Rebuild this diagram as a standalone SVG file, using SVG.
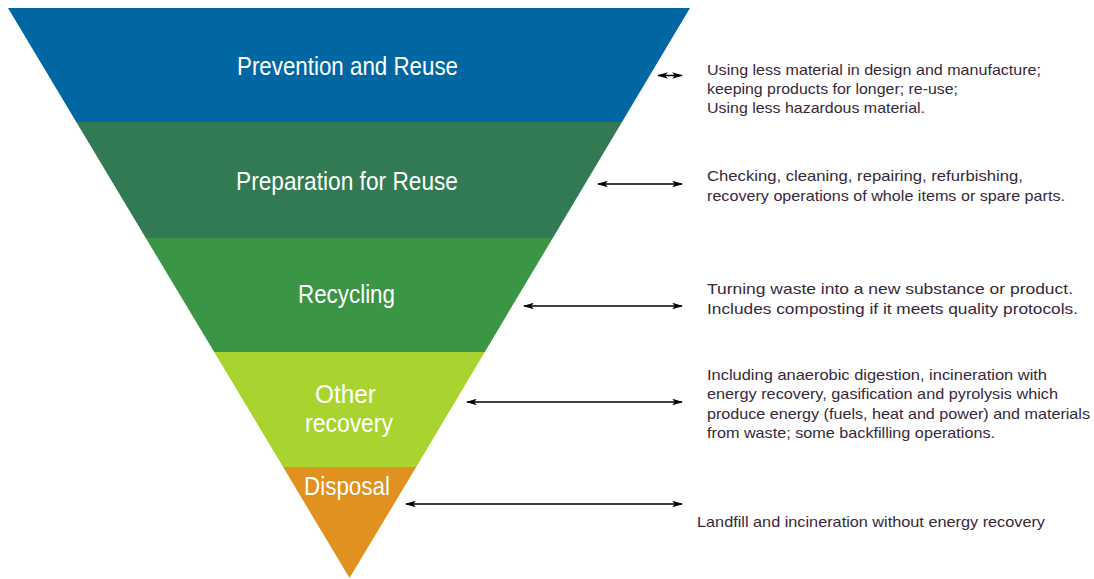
<svg xmlns="http://www.w3.org/2000/svg" width="1094" height="579" viewBox="0 0 1094 579">
<defs>
<style>
.lbl{font-family:"Liberation Sans",Arial,sans-serif;font-size:25px;fill:#ffffff;}
.desc{font-family:"Liberation Sans",Arial,sans-serif;font-size:14.5px;fill:#36283b;}
.conn{stroke:#000;stroke-width:1.5;fill:none;marker-start:url(#ah);marker-end:url(#ah);}
</style>
<marker id="ah" viewBox="0 0 10 6" refX="9" refY="3" markerWidth="7.3" markerHeight="4.4" orient="auto-start-reverse" markerUnits="strokeWidth">
<path d="M0,0 L10,3 L0,6 L2.5,3 Z" fill="#000"/>
</marker>
</defs>
<rect width="1094" height="579" fill="#ffffff"/>
<g id="prevention">
<polygon points="8,8 690,8 622,122 76.3,122" fill="#0067a3"/>
<text class="lbl" x="237" y="75" textLength="221" lengthAdjust="spacingAndGlyphs">Prevention and Reuse</text>
</g>
<g id="preparation">
<polygon points="76.3,122 622,122 552.8,238 145.8,238" fill="#327a53"/>
<text class="lbl" x="236" y="190" textLength="222" lengthAdjust="spacingAndGlyphs">Preparation for Reuse</text>
</g>
<g id="recycling">
<polygon points="145.8,238 552.8,238 484.8,352 214.2,352" fill="#3a9545"/>
<text class="lbl" x="298" y="303" textLength="97" lengthAdjust="spacingAndGlyphs">Recycling</text>
</g>
<g id="other-recovery">
<polygon points="214.2,352 484.8,352 416.2,467 283.1,467" fill="#a9d42f"/>
<text class="lbl" x="315" y="403" textLength="61" lengthAdjust="spacingAndGlyphs">Other</text>
<text class="lbl" x="305" y="432" textLength="88" lengthAdjust="spacingAndGlyphs">recovery</text>
</g>
<g id="disposal">
<polygon points="283.1,467 416.2,467 349.5,578" fill="#e0911f"/>
<text class="lbl" x="304" y="495" textLength="86" lengthAdjust="spacingAndGlyphs">Disposal</text>
</g>
<g id="connectors">
<line class="conn" x1="658" y1="75.5" x2="682" y2="75.5"/>
<line class="conn" x1="598" y1="184" x2="682" y2="184"/>
<line class="conn" x1="524" y1="306" x2="682" y2="306"/>
<line class="conn" x1="467" y1="402" x2="682" y2="402"/>
<line class="conn" x1="406" y1="504" x2="682" y2="504"/>
</g>
<g id="desc-prevention">
<text class="desc" x="707" y="75" textLength="334" lengthAdjust="spacingAndGlyphs">Using less material in design and manufacture;</text>
<text class="desc" x="707" y="94" textLength="251" lengthAdjust="spacingAndGlyphs">keeping products for longer; re-use;</text>
<text class="desc" x="707" y="113" textLength="218" lengthAdjust="spacingAndGlyphs">Using less hazardous material.</text>
</g>
<g id="desc-preparation">
<text class="desc" x="707" y="181" textLength="316" lengthAdjust="spacingAndGlyphs">Checking, cleaning, repairing, refurbishing,</text>
<text class="desc" x="707" y="201" textLength="358" lengthAdjust="spacingAndGlyphs">recovery operations of whole items or spare parts.</text>
</g>
<g id="desc-recycling">
<text class="desc" x="707" y="294" textLength="366" lengthAdjust="spacingAndGlyphs">Turning waste into a new substance or product.</text>
<text class="desc" x="707" y="314" textLength="371" lengthAdjust="spacingAndGlyphs">Includes composting if it meets quality protocols.</text>
</g>
<g id="desc-other">
<text class="desc" x="707" y="380" textLength="340" lengthAdjust="spacingAndGlyphs">Including anaerobic digestion, incineration with</text>
<text class="desc" x="707" y="399" textLength="351" lengthAdjust="spacingAndGlyphs">energy recovery, gasification and pyrolysis which</text>
<text class="desc" x="707" y="419" textLength="383" lengthAdjust="spacingAndGlyphs">produce energy (fuels, heat and power) and materials</text>
<text class="desc" x="707" y="438" textLength="288" lengthAdjust="spacingAndGlyphs">from waste; some backfilling operations.</text>
</g>
<g id="desc-disposal">
<text class="desc" x="697" y="527" textLength="348" lengthAdjust="spacingAndGlyphs">Landfill and incineration without energy recovery</text>
</g>
</svg>
